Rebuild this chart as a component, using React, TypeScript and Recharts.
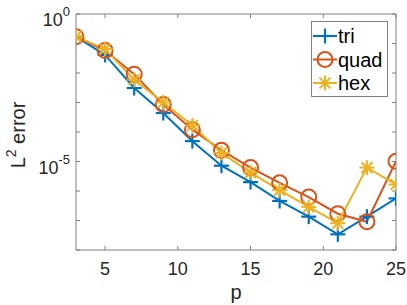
import { LineChart, Line, XAxis, YAxis, Legend } from 'recharts'

// polynomial degree p
const P = [3, 5, 7, 9, 11, 13, 15, 17, 19, 21, 23, 25]

// L2 error per element type
const TRI = [1.7e-1, 4.1e-2, 3.1e-3, 4.4e-4, 4.9e-5, 7.2e-6, 2.0e-6, 4.6e-7, 1.35e-7, 3.4e-8, 1.35e-7, 5.6e-7]
const QUAD = [1.7e-1, 5.8e-2, 9.1e-3, 8.5e-4, 1.2e-4, 2.4e-5, 6.2e-6, 1.9e-6, 6.2e-7, 1.7e-7, 9.1e-8, 1.02e-5]
const HEX = [1.7e-1, 6.5e-2, 5.9e-3, 1.0e-3, 1.66e-4, 1.95e-5, 4.2e-6, 1.07e-6, 2.9e-7, 8.1e-8, 6.2e-6, 1.66e-6]

const X_TICKS = [5, 10, 15, 20, 25]
const Y_TICKS = [1e-8, 1e-7, 1e-6, 1e-5, 1e-4, 1e-3, 1e-2, 1e-1, 1]
const Y_LABELED: Record<number, string> = { 1: '0', 1e-5: '-5' }

type Marker = 'plus' | 'circle' | 'star'
const SERIES: { key: string; name: string; color: string; marker: Marker }[] = [
  { key: 'tri', name: 'tri', color: '#0072BD', marker: 'plus' },
  { key: 'quad', name: 'quad', color: '#D95319', marker: 'circle' },
  { key: 'hex', name: 'hex', color: '#EDB120', marker: 'star' },
]

const rows = P.map((p, i) => ({ p, tri: TRI[i], quad: QUAD[i], hex: HEX[i] }))

const FONT = '"Liberation Sans", Arial, Helvetica, sans-serif'
const INK = '#262626'
const AXIS = '#808080'
const W = 407
const H = 305
// axes are 1px thick, so plot area = 76..396 x 14..250
const M = { top: 13, right: 10, bottom: 54, left: 75 }

function MarkerShape({ cx, cy, kind, color }: { cx: number; cy: number; kind: Marker; color: string }) {
  const r = 7.5
  if (kind === 'circle')
    return <circle cx={cx} cy={cy} r={r} fill="none" stroke={color} strokeWidth={2} />
  if (kind === 'plus')
    return (
      <g stroke={color} strokeWidth={2.2}>
        <line x1={cx - r} y1={cy} x2={cx + r} y2={cy} />
        <line x1={cx} y1={cy - r} x2={cx} y2={cy + r} />
      </g>
    )
  const d = r * 0.72
  return (
    <g stroke={color} strokeWidth={2}>
      <line x1={cx - r} y1={cy} x2={cx + r} y2={cy} />
      <line x1={cx} y1={cy - r} x2={cx} y2={cy + r} />
      <line x1={cx - d} y1={cy - d} x2={cx + d} y2={cy + d} />
      <line x1={cx - d} y1={cy + d} x2={cx + d} y2={cy - d} />
    </g>
  )
}

function BottomTick({ x, y, payload }: any) {
  return (
    <g>
      <line x1={x} y1={y} x2={x} y2={y - 4} stroke={AXIS} />
      <text x={x} y={y + 25} textAnchor="middle" fontSize={18} fill={INK} fontFamily={FONT}>
        {payload.value}
      </text>
    </g>
  )
}

function TopTick({ x, y }: any) {
  return <line x1={x} y1={y} x2={x} y2={y + 4} stroke={AXIS} />
}

function LeftTick({ x, y, payload }: any) {
  const exp = Y_LABELED[payload.value]
  return (
    <g>
      <line x1={x} y1={y} x2={x + 4} y2={y} stroke={AXIS} />
      {exp !== undefined && (
        <text x={x - 6} y={y + 12} textAnchor="end" fontSize={18} fill={INK} fontFamily={FONT}>
          <tspan>10</tspan>
          <tspan dy={-10} fontSize={13}>{exp}</tspan>
        </text>
      )}
    </g>
  )
}

function RightTick({ x, y }: any) {
  return <line x1={x} y1={y} x2={x - 4} y2={y} stroke={AXIS} />
}

function XTitle() {
  return (
    <text x={236} y={299} textAnchor="middle" fontSize={20} fill={INK} fontFamily={FONT}>
      p
    </text>
  )
}

function YTitle() {
  return (
    <text
      x={25}
      y={135}
      transform="rotate(-90 25 135)"
      textAnchor="middle"
      fontSize={20}
      fill={INK}
      fontFamily={FONT}
    >
      <tspan>L</tspan>
      <tspan dy={-9} fontSize={14}>2</tspan>
      <tspan dy={9}> error</tspan>
    </text>
  )
}

function LegendBox() {
  return (
    <svg width={77} height={76} style={{ display: 'block' }}>
      <rect x={0.5} y={0.5} width={76} height={75} fill="#fff" stroke={AXIS} />
      {SERIES.map((s, i) => {
        const cy = 15 + i * 23.5
        return (
          <g key={s.key}>
            <line x1={2} y1={cy} x2={26} y2={cy} stroke={s.color} strokeWidth={2} />
            <MarkerShape cx={14} cy={cy} kind={s.marker} color={s.color} />
            <text x={27} y={cy + 7} fontSize={20} fill="#000" fontFamily={FONT}>
              {s.name}
            </text>
          </g>
        )
      })}
    </svg>
  )
}

export default function App() {
  return (
    <div style={{ position: 'absolute', left: 0, top: 0, background: '#fff' }}>
      <LineChart width={W} height={H} data={rows} margin={M}>
        <XAxis
          dataKey="p"
          type="number"
          domain={[3, 25]}
          ticks={X_TICKS}
          interval={0}
          height={1}
          tickSize={0}
          tickMargin={0}
          tickLine={false}
          stroke={AXIS}
          tick={BottomTick}
          label={<XTitle />}
          allowDataOverflow
        />
        <XAxis
          xAxisId="top"
          orientation="top"
          dataKey="p"
          type="number"
          domain={[3, 25]}
          ticks={X_TICKS}
          interval={0}
          height={1}
          tickSize={0}
          tickMargin={0}
          tickLine={false}
          stroke={AXIS}
          tick={TopTick}
          allowDataOverflow
        />
        <YAxis
          type="number"
          scale="log"
          domain={[1e-8, 1]}
          ticks={Y_TICKS}
          interval={0}
          width={1}
          tickSize={0}
          tickMargin={0}
          tickLine={false}
          stroke={AXIS}
          tick={LeftTick}
          label={<YTitle />}
          allowDataOverflow
        />
        <YAxis
          yAxisId="right"
          orientation="right"
          type="number"
          scale="log"
          domain={[1e-8, 1]}
          ticks={Y_TICKS}
          interval={0}
          width={1}
          tickSize={0}
          tickMargin={0}
          tickLine={false}
          stroke={AXIS}
          tick={RightTick}
          allowDataOverflow
        />
        <Legend
          layout="horizontal"
          verticalAlign="middle"
          align="center"
          wrapperStyle={{ position: 'absolute', left: 311, top: 21, width: 77, height: 76 }}
          content={() => <LegendBox />}
        />
        {SERIES.map((s) => (
          <Line
            key={s.key}
            dataKey={s.key}
            name={s.name}
            stroke={s.color}
            strokeWidth={2}
            isAnimationActive={false}
            activeDot={false}
            dot={(props: any) => (
              <MarkerShape key={`${s.key}-${props.index}`} cx={props.cx} cy={props.cy} kind={s.marker} color={s.color} />
            )}
          />
        ))}
      </LineChart>
    </div>
  )
}
